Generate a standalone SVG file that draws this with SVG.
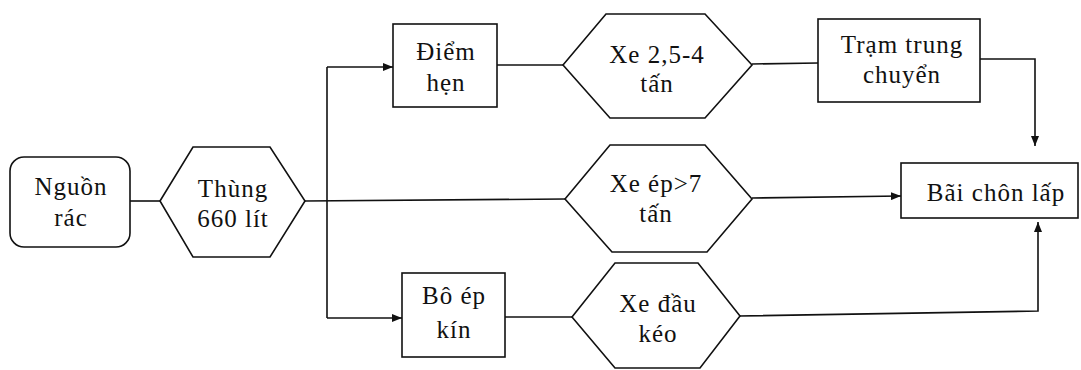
<svg xmlns="http://www.w3.org/2000/svg" width="1081" height="370" viewBox="0 0 1081 370">
<style>
.s{fill:#fff;stroke:#111;stroke-width:1.6}
.c{fill:none;stroke:#111;stroke-width:1.6}
text{font-family:"Liberation Serif","Times New Roman",serif;font-size:25px;fill:#111;text-anchor:middle;letter-spacing:1px}
</style>
<defs>
<marker id="a" viewBox="0 0 10 8" refX="10" refY="4" markerWidth="10" markerHeight="8" markerUnits="userSpaceOnUse" orient="auto">
<path d="M0,0 L10,4 L0,8 Z" fill="#111"/>
</marker>
</defs>
<rect width="1081" height="370" fill="#fff"/>
<g id="connectors">
<line class="c" x1="130" y1="201" x2="160" y2="201"/>
<line class="c" x1="305" y1="201" x2="565" y2="199"/>
<polyline class="c" points="327,318 327,67"/>
<line class="c" x1="327" y1="67" x2="393" y2="67" marker-end="url(#a)"/>
<line class="c" x1="327" y1="318" x2="402" y2="318" marker-end="url(#a)"/>
<line class="c" x1="497" y1="65" x2="563" y2="65"/>
<line class="c" x1="752" y1="64" x2="818" y2="63"/>
<polyline class="c" points="980,59 1035,59 1035,146" marker-end="url(#a)"/>
<line class="c" x1="752" y1="198" x2="901" y2="196" marker-end="url(#a)"/>
<line class="c" x1="505" y1="317" x2="572" y2="317"/>
<polyline class="c" points="739,316 1038,311 1038,222" marker-end="url(#a)"/>
</g>
<g id="nguon-rac">
<rect class="s" x="10" y="157" width="120" height="90" rx="14"/>
<text x="71" y="195">Nguồn</text>
<text x="71" y="226">rác</text>
</g>
<g id="thung-660">
<polygon class="s" points="160,201 193,147 270,147 305,201 270,257 193,257"/>
<text x="233" y="197">Thùng</text>
<text x="233" y="227">660 lít</text>
</g>
<g id="diem-hen">
<rect class="s" x="393" y="24" width="104" height="83"/>
<text x="446" y="60">Điểm</text>
<text x="446" y="91">hẹn</text>
</g>
<g id="xe-25-4">
<polygon class="s" points="563,65 606,14 705,14 752,65 705,118 610,118"/>
<text x="657" y="63">Xe 2,5-4</text>
<text x="657" y="92">tấn</text>
</g>
<g id="tram-trung-chuyen">
<rect class="s" x="818" y="19" width="162" height="83"/>
<text x="902" y="53">Trạm trung</text>
<text x="902" y="83">chuyển</text>
</g>
<g id="xe-ep">
<polygon class="s" points="565,199 610,145 705,145 752,199 707,252 612,252"/>
<text x="656" y="192">Xe ép&gt;7</text>
<text x="656" y="222">tấn</text>
</g>
<g id="bai-chon-lap">
<rect class="s" x="901" y="163" width="177" height="55"/>
<text x="996" y="201">Bãi chôn lấp</text>
</g>
<g id="bo-ep-kin">
<rect class="s" x="402" y="273" width="103" height="84"/>
<text x="454" y="304">Bô ép</text>
<text x="454" y="338">kín</text>
</g>
<g id="xe-dau-keo">
<polygon class="s" points="572,317 615,263 698,263 740,316 700,368 615,368"/>
<text x="658" y="312">Xe đầu</text>
<text x="658" y="342">kéo</text>
</g>
</svg>
